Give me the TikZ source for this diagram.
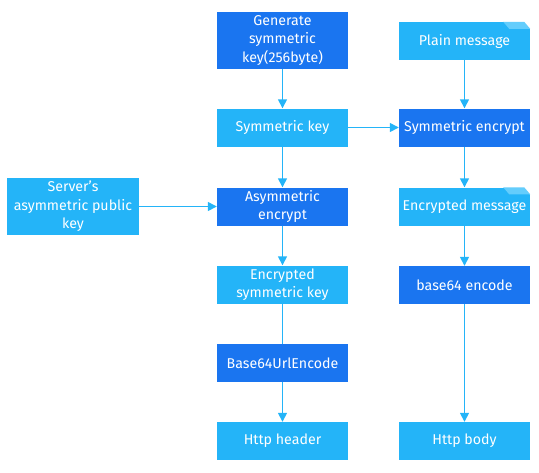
\documentclass[tikz,border=0pt]{standalone}
\usepackage{fontspec}
\setmainfont{Fira Sans}
\usetikzlibrary{arrows.meta, positioning}

\definecolor{darkbox}{RGB}{26,117,240}
\definecolor{lightbox}{RGB}{36,180,248}
\definecolor{foldcol}{RGB}{100,205,252}

\tikzset{
    box/.style={fill=#1, text=white, minimum width=131pt, minimum height=38pt,
        align=center, inner sep=2pt, font=\fontsize{14.2}{18.5}\selectfont},
    tallbox/.style={box=#1, minimum height=57pt},
    flow/.style={-{Triangle[width=9pt, length=9pt]}, line width=1.4pt, draw=lightbox},
    plainflow/.style={line width=1.4pt, draw=lightbox},
}

\begin{document}
\begin{tikzpicture}[x=1pt, y=-1pt]
        \useasboundingbox (0, 0) rectangle (539, 472);
        \node[tallbox=darkbox] (gen) at (282.5, 40.5)
            {Generate\\symmetric\\key(256byte)};
        \node[box=lightbox] (symkey) at (282.5, 127.5) {Symmetric key};
        \node[box=darkbox] (asym) at (282.5, 206.5) {Asymmetric\\encrypt};
        \node[tallbox=lightbox, minimum width=132pt] (server) at (73, 206.5)
            {Server’s\\asymmetric public\\key};
        \node[box=lightbox] (enckey) at (282.5, 284.5)
            {Encrypted\\symmetric key};
        \node[box=darkbox] (urlenc) at (282.5, 363) {Base64UrlEncode};
        \node[box=lightbox] (header) at (282.5, 441) {Http header};

        \node[box=lightbox] (plain) at (464.5, 41) {Plain message};
        \node[box=darkbox] (symenc) at (464.5, 127.5) {Symmetric encrypt};
        \node[box=lightbox] (encmsg) at (464.5, 206.5) {Encrypted message};
        \node[box=darkbox] (b64) at (464.5, 285) {base64 encode};
        \node[box=lightbox] (body) at (464.5, 441) {Http body};

        % dog-ears on the two message boxes
        \foreach \doc in {plain, encmsg} {
            \fill[white] ([xshift=-27pt]\doc.north east) -- (\doc.north east)
                -- ([yshift=-7pt]\doc.north east) -- cycle;
            \fill[foldcol] ([xshift=-27pt]\doc.north east)
                -- ([xshift=-6pt]\doc.north east)
                -- ([yshift=-7pt]\doc.north east)
                -- ([xshift=-21pt, yshift=-7pt]\doc.north east) -- cycle;
        }

        \draw[flow] (gen) -- (symkey);
        \draw[flow] (symkey) -- (symenc);
        \draw[flow] (symkey) -- (asym);
        \draw[flow] (server) -- (asym);
        \draw[flow] (asym) -- (enckey);
        \draw[plainflow] (enckey) -- (urlenc);
        \draw[flow] (urlenc) -- (header);
        \draw[flow] (plain) -- (symenc);
        \draw[flow] (symenc) -- (encmsg);
        \draw[flow] (encmsg) -- (b64);
        \draw[flow] (b64) -- (body);
    \end{tikzpicture}
\end{document}
